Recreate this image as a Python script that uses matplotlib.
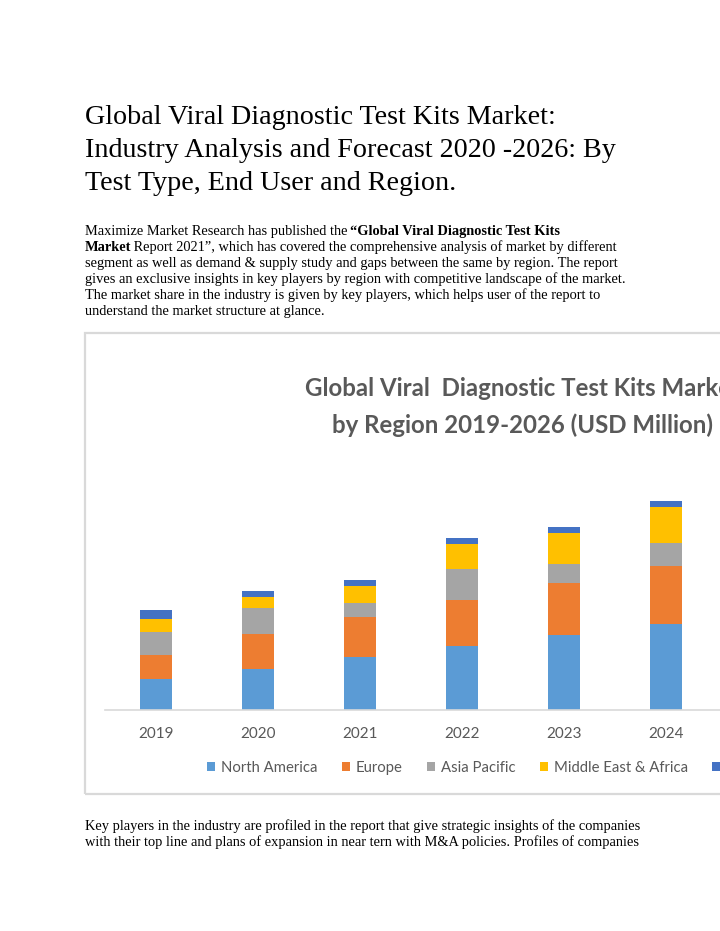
import matplotlib
matplotlib.use('Agg')
import matplotlib.pyplot as plt
from matplotlib.patches import Rectangle, Patch

# ---------------- data ----------------
years = ['2019', '2020', '2021', '2022', '2023', '2024']
north_america = [30.7, 41.3, 52.7, 64.0, 75.0, 86.0]
europe = [24.3, 35.0, 40.6, 46.0, 52.3, 58.3]
asia_pacific = [23.0, 25.4, 14.0, 30.7, 18.7, 23.0]
middle_east_africa = [13.3, 11.6, 17.0, 25.6, 31.0, 36.0]
latin_america = [8.7, 5.4, 5.7, 5.7, 6.0, 5.7]
series_names = ['North America', 'Europe', 'Asia Pacific', 'Middle East & Africa', 'Latin America']
n_slots = 8  # 2019-2026 on the axis; only first six visible in the page crop

doc_title = ["Global Viral Diagnostic Test Kits Market:",
             "Industry Analysis and Forecast 2020 -2026: By",
             "Test Type, End User and Region."]
chart_title = ["Global Viral  Diagnostic Test Kits Market",
               "by Region 2019-2026 (USD Million)"]
para_lines = [
    [("Maximize Market Research has published the ", 'normal'),
     ("\u201cGlobal Viral Diagnostic Test Kits", 'bold')],
    [("Market", 'bold'),
     (" Report 2021\u201d, which has covered the comprehensive analysis of market by different", 'normal')],
    [("segment as well as demand & supply study and gaps between the same by region. The report", 'normal')],
    [("gives an exclusive insights in key players by region with competitive landscape of the market.", 'normal')],
    [("The market share in the industry is given by key players, which helps user of the report to", 'normal')],
    [("understand the market structure at glance.", 'normal')],
]
bottom_lines = [
    "Key players in the industry are profiled in the report that give strategic insights of the companies",
    "with their top line and plans of expansion in near tern with M&A policies. Profiles of companies",
]

# ---------------- styling ----------------
W, H = 720, 931
colors = ['#5b9bd5', '#ed7d31', '#a5a5a5', '#ffc000', '#4472c4']
gray_txt = '#595959'
serif = 'Liberation Serif'
sans = 'Lato'


def fx(px):
    return px / W


def fy(py):
    return 1 - py / H


fig = plt.figure(figsize=(W / 100, H / 100), dpi=100)
fig.patch.set_facecolor('white')
renderer = fig.canvas.get_renderer()


def fit_size(text, family, weight, target_w, base=12):
    t = fig.text(0, 0, text, fontsize=base, family=family, fontweight=weight)
    w = t.get_window_extent(renderer).width
    t.remove()
    return base * target_w / w


# ---- document title ----
ts = fit_size(doc_title[1], serif, 'normal', 529)
for line, base_y in zip(doc_title, [124, 157, 190]):
    fig.text(fx(85), fy(base_y), line, fontsize=ts, family=serif,
             va='baseline', ha='left', color='black')

# ---- paragraph ----
ps = fit_size(para_lines[3][0][0], serif, 'normal', 539)
for i, segs in enumerate(para_lines):
    x = 85
    y = 234.5 + i * 16.1
    for txt, wt in segs:
        t = fig.text(fx(x), fy(y), txt, fontsize=ps, family=serif, fontweight=wt,
                     va='baseline', ha='left', color='black')
        x += t.get_window_extent(renderer).width - 1.5

# ---- chart frame ----
fig.patches.append(Rectangle((fx(85), fy(794)), (965 - 85) / W, (794 - 333) / H,
                             transform=fig.transFigure, fill=False,
                             edgecolor='#d9d9d9', lw=1.6))

# ---- chart title ----
cs = fit_size(chart_title[1], sans, 'bold', 379)
for line, cy in zip(chart_title, [388, 425]):
    fig.text(fx(522), fy(cy), line, fontsize=cs, family=sans, fontweight='bold',
             ha='center', va='center', color=gray_txt)

# ---- chart axes ----
ax = fig.add_axes([fx(105), fy(710), (921 - 105) / W, (710 - 480) / H])
ax.set_xlim(-0.5, n_slots - 0.5)
ax.set_ylim(0, 230)
xs = list(range(len(years)))
bottoms = [0.0] * len(years)
handles = []
for vals, c, name in zip([north_america, europe, asia_pacific, middle_east_africa, latin_america],
                         colors, series_names):
    ax.bar(xs, vals, width=0.31, bottom=bottoms, color=c, edgecolor='none', label=name)
    bottoms = [b + v for b, v in zip(bottoms, vals)]
    handles.append(Patch(facecolor=c, edgecolor='none', label=name))

for s in ['top', 'right', 'left']:
    ax.spines[s].set_visible(False)
ax.spines['bottom'].set_color('#d9d9d9')
ax.spines['bottom'].set_linewidth(1.2)
ax.set_yticks([])
ax.set_xticks(xs)
ax.set_xticklabels(years)
ax.tick_params(axis='x', length=0, pad=12, labelsize=11, labelcolor=gray_txt)
for lbl in ax.get_xticklabels():
    lbl.set_family(sans)
ax.patch.set_alpha(0)

leg = ax.legend(handles=handles, loc='center left', bbox_to_anchor=(fx(207), fy(768)),
                bbox_transform=fig.transFigure, ncol=5, frameon=False, borderpad=0,
                borderaxespad=0,
                prop={'family': sans, 'size': 10.7}, handlelength=0.55, handleheight=0.55,
                handletextpad=0.4, columnspacing=1.62, labelcolor=gray_txt)

# ---- bottom paragraph ----
for i, line in enumerate(bottom_lines):
    fig.text(fx(85), fy(830 + i * 16.1), line, fontsize=ps, family=serif,
             va='baseline', ha='left', color='black')

fig.savefig('out.png', dpi=100, facecolor='white')
